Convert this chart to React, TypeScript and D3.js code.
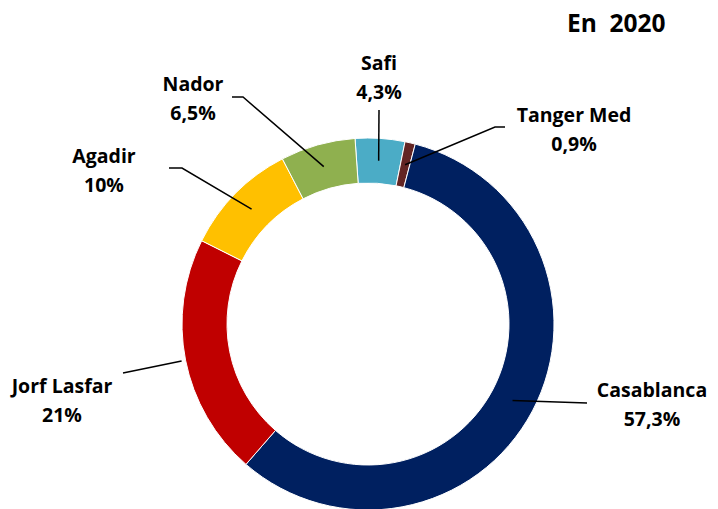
import React from "react";
import * as d3 from "d3";

const ports = ["Safi", "Tanger Med", "Casablanca", "Jorf Lasfar", "Agadir", "Nador"];
const shares = [4.3, 0.9, 57.3, 21, 10, 6.5];
const shareLabels = ["4,3%", "0,9%", "57,3%", "21%", "10%", "6,5%"];
const colors = ["#4BACC6", "#632523", "#002060", "#C00000", "#FFC000", "#8FB04F"];
const title = "En\u00a0 2020";

// label layout: label centre x, first baseline y, leader elbow, leader start (label side), end radius
const labelLayout = [
  { x: 379, y: 70, start: [379, 110], elbow: [379, 110], endR: null },
  { x: 574, y: 122, start: [505, 127], elbow: [495, 127], endR: null },
  { x: 652, y: 397, start: [587, 403], elbow: [587, 403], endR: null },
  { x: 62, y: 393, start: [123, 373], elbow: [123, 373], endR: 190 },
  { x: 104, y: 163, start: [169, 168], elbow: [182, 168], endR: null },
  { x: 193, y: 91, start: [232, 97], elbow: [243, 97], endR: null },
];

const W = 718;
const H = 509;
const cx = 368;
const cy = 324;
const outerR = 186;
const innerR = 141;
const startDeg = -4;

export default function App() {
  const start = (startDeg * Math.PI) / 180;
  const pie = d3
    .pie<number>()
    .sort(null)
    .value((d) => d)
    .startAngle(start)
    .endAngle(start + 2 * Math.PI);
  const arcs = pie(shares);
  const arc = d3.arc<d3.PieArcDatum<number>>().innerRadius(innerR).outerRadius(outerR);
  const font = "'Open Sans', Lato, sans-serif";

  return (
    <svg
      width={W}
      height={H}
      style={{ position: "absolute", left: 0, top: 0, background: "#fff" }}
    >
      <g transform={`translate(${cx},${cy})`}>
        {arcs.map((a, i) => (
          <path key={ports[i]} d={arc(a) || ""} fill={colors[i]} stroke="#fff" strokeWidth={1} />
        ))}
      </g>
      {arcs.map((a, i) => {
        const L = labelLayout[i];
        const mid = (a.startAngle + a.endAngle) / 2;
        const r = L.endR ?? (innerR + outerR) / 2;
        const ex = cx + r * Math.sin(mid);
        const ey = cy - r * Math.cos(mid);
        const pts = [L.start, L.elbow, [ex, ey]];
        return (
          <polyline
            key={"l" + i}
            points={pts.map((p) => p.join(",")).join(" ")}
            fill="none"
            stroke="#000"
            strokeWidth={1.5}
          />
        );
      })}
      {labelLayout.map((L, i) => (
        <text
          key={"t" + i}
          x={L.x}
          y={L.y}
          textAnchor="middle"
          fontFamily={font}
          fontWeight="bold"
          fontSize={19.5}
          fill="#000"
        >
          <tspan x={L.x} y={L.y}>{ports[i]}</tspan>
          <tspan x={L.x} y={L.y + 28.5}>{shareLabels[i]}</tspan>
        </text>
      ))}
      <text x={567} y={32} fontFamily={font} fontWeight="bold" fontSize={24.5} fill="#000">
        {title}
      </text>
    </svg>
  );
}
